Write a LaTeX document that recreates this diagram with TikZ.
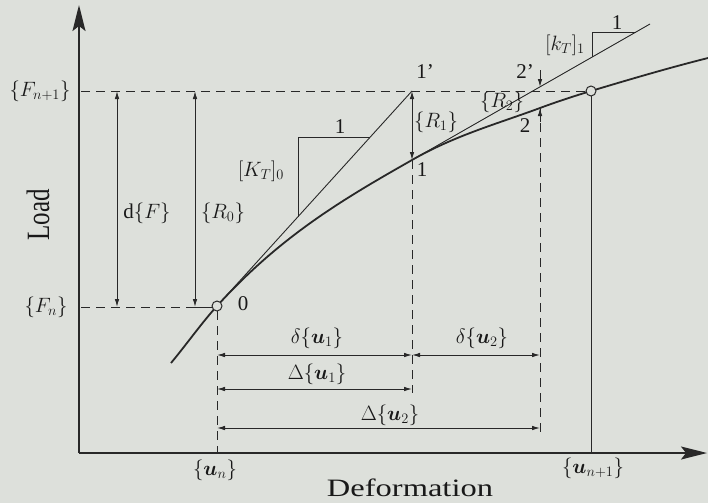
\documentclass[tikz,border=0pt]{standalone}
\usepackage{amsmath}
\usepackage{fontspec}
\setmainfont{Liberation Serif}
\usetikzlibrary{arrows.meta}
\definecolor{bg}{RGB}{221,224,219}
\definecolor{ink}{RGB}{40,40,40}
\definecolor{txt}{RGB}{25,25,25}
\newcommand{\wideit}[1]{\scalebox{1.3}[1.0]{#1}}
\begin{document}
\begin{tikzpicture}[x=1pt,y=-1pt,line width=0.9pt,draw=ink,
  lbl/.style={font=\fontsize{21}{24}\selectfont,text=txt,inner sep=1pt},
  big/.style={font=\fontsize{25}{28}\selectfont,text=txt,inner sep=1pt},
  axis/.style={draw=ink,line width=2pt,-{Stealth[length=26pt,width=13pt,inset=5pt]}},
  dim/.style={draw=ink,line width=0.9pt,{Latex[length=8pt,width=4.5pt]}-{Latex[length=8pt,width=4.5pt]}},
  tip/.style={draw=ink,line width=0.9pt,-{Latex[length=8pt,width=4.5pt]}},
  guide/.style={draw=ink,line width=0.9pt,dash pattern=on 9pt off 6pt},
  curvestyle/.style={draw=ink,line width=1.8pt},
  ring/.style={circle,draw=ink,line width=1pt,fill=bg,minimum size=10pt,inner sep=0pt}]
\fill[bg] (0,0) rectangle (708,503);
\useasboundingbox (0,0) rectangle (708,503);
% key points
\coordinate (O) at (79,453);
\coordinate (Ytop) at (79,5);
\coordinate (Xend) at (707,453);
\coordinate (Cs) at (171,363);
\coordinate (P0) at (217,306);
\coordinate (P1) at (412,160);
\coordinate (P1p) at (412,91);
\coordinate (P2) at (540,108);
\coordinate (P2p) at (540,87);
\coordinate (Pn) at (591,91);
\coordinate (Ce) at (708,58);
\coordinate (T1end) at (650,24);
% guide lines
\coordinate (Fn1L) at (81,91);
\coordinate (FnL) at (81,307);
\coordinate (FnR) at (195,307);
\draw[guide] (Fn1L) -- (586,91);
\draw[guide] (FnL) -- (FnR);
\draw (FnR) -- (212,307);
\draw[guide] (217,311) -- (217,453);
\draw[guide] (P1) -- (412,393);
\draw[guide] (P2) -- (540,432);
% axes
\draw[axis] (O) -- (Ytop);
\draw[axis] (O) -- (Xend);
% curve
\draw[curvestyle] (Cs) .. controls (186,345) and (202,322.5) .. (P0)
  .. controls (282,234.3) and (347,197.1) .. (P1)
  .. controls (455,135.4) and (497,123.9) .. (P2)
  .. controls (557,101.7) and (574,96.1) .. (Pn)
  .. controls (630,79.3) and (669,67.8) .. (Ce);
% tangent at 0
\draw (P0) -- (P1p);
\coordinate (K0a) at (298,137);
\coordinate (K0b) at (370.3,137);
\coordinate (K0c) at (298,216.7);
\draw (K0c) -- (K0a) -- (K0b);
% tangent at 1
\draw (P1) -- (T1end);
\coordinate (K1a) at (592,32);
\coordinate (K1b) at (636,32);
\coordinate (K1c) at (592,57.1);
\draw (K1c) -- (K1a) -- (K1b);
% vertical from u_{n+1}
\draw (591,96) -- (591,453);
% load arrows
\draw[dim] (117,91) -- (117,307);
\draw[dim] (195,91) -- (FnR);
\draw[dim] (P1p) -- (P1);
\draw[tip] (540,70) -- (P2p);
\draw[tip] (540,122) -- (P2);
% deformation arrows
\draw[dim] (217,355) -- (412,355);
\draw[dim] (412,355) -- (540,355);
\draw[dim] (217,389) -- (412,389);
\draw[dim] (217,428) -- (540,428);
% circles
\node[ring] (c0) at (P0) {};
\node[ring] (cn) at (Pn) {};
% labels
\node[lbl] (lFn1) at (40,91) {$\{F_{n+1}\}$};
\node[lbl] (lFn) at (46,307) {$\{F_n\}$};
\node[lbl] (ldF) at (147,213) {$\mathrm{d}\{F\}$};
\node[lbl] (lR0) at (223,213) {$\{R_0\}$};
\node[lbl] (l0) at (243,304) {0};
\node[lbl] (lK0) at (261,171) {$[K_T]_0$};
\node[lbl] (lK0one) at (340,127) {1};
\node[lbl] (l1p) at (425,72) {1'};
\node[lbl] (lR1) at (436,122) {$\{R_1\}$};
\node[lbl] (l1) at (422,170) {1};
\node[lbl] (l2p) at (525,72) {2'};
\node[lbl] (lR2) at (502,102) {$\{R_2\}$};
\node[lbl] (l2) at (525,126) {2};
\node[lbl] (lk1) at (565,45) {$[k_T]_1$};
\node[lbl] (lk1one) at (617,23) {1};
\node[lbl] (ldu1) at (317,338) {$\delta\{\boldsymbol{u}_1\}$};
\node[lbl] (ldu2) at (482,338) {$\delta\{\boldsymbol{u}_2\}$};
\node[lbl] (lDu1) at (317,374) {$\Delta\{\boldsymbol{u}_1\}$};
\node[lbl] (lDu2) at (390,415) {$\Delta\{\boldsymbol{u}_2\}$};
\node[lbl] (lun) at (215,470) {$\{\boldsymbol{u}_n\}$};
\node[lbl] (lun1) at (593,468) {$\{\boldsymbol{u}_{n+1}\}$};
\node[big] (ldef) at (410,488) {\wideit{Deformation}};
\node[big,rotate=90] (lload) at (38,215) {\scalebox{1}[1.3]{Load}};
\end{tikzpicture}
\end{document}
